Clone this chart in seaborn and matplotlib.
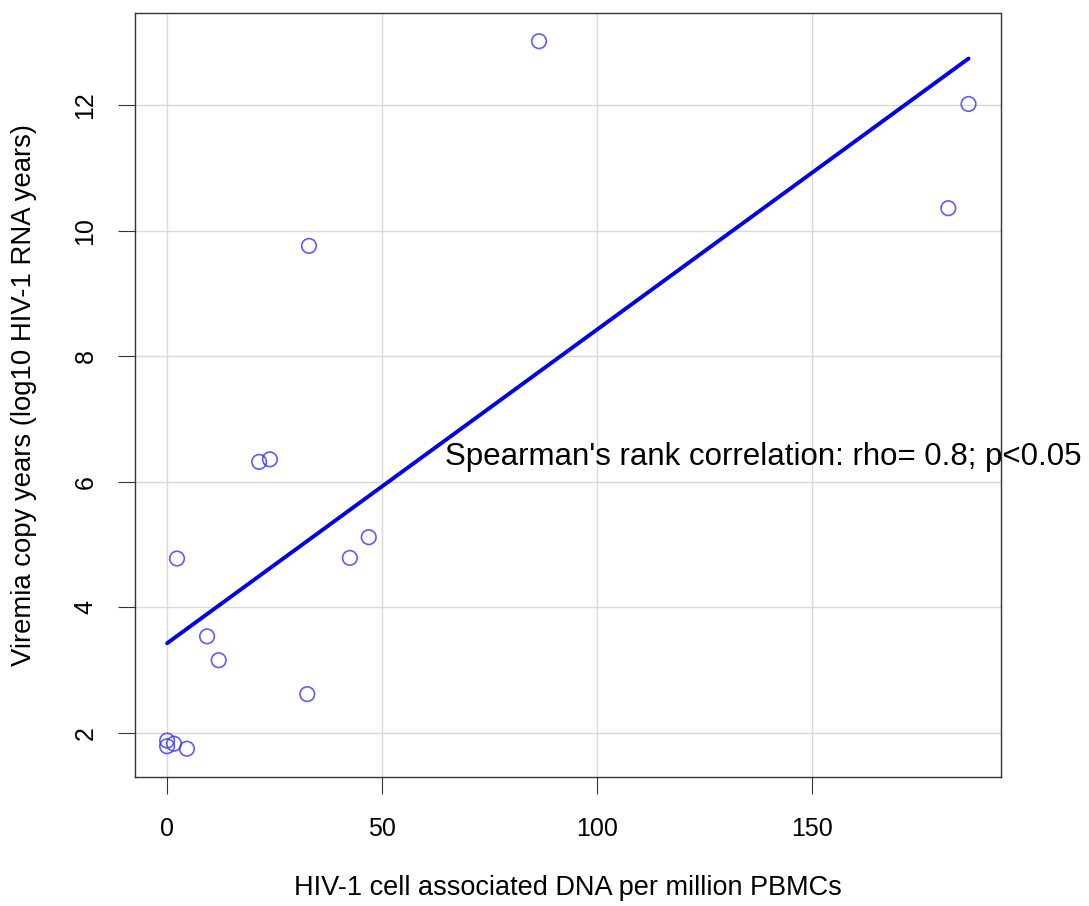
import matplotlib
matplotlib.use("Agg")
import matplotlib.pyplot as plt
import seaborn as sns
import numpy as np
import pandas as pd

dna = [0.0, 0.0, 1.6, 4.6, 2.3, 9.3, 12.0, 21.4, 23.9, 32.6, 33.0, 42.5, 46.9, 86.5, 186.4, 181.7]
viremia = [1.88, 1.79, 1.83, 1.75, 4.78, 3.54, 3.16, 6.32, 6.36, 2.62, 9.76, 4.79, 5.12, 13.02, 12.02, 10.36]
x_ticks = [0, 50, 100, 150]
y_ticks = [2, 4, 6, 8, 10, 12]
annotation = "Spearman's rank correlation: rho= 0.8; p<0.05"

df = pd.DataFrame({"dna": dna, "viremia": viremia})

sns.set_style("white")
plt.rcParams["font.family"] = ["Liberation Sans", "DejaVu Sans"]
plt.rcParams["text.color"] = "black"
plt.rcParams["axes.labelcolor"] = "black"
plt.rcParams["xtick.labelcolor"] = "black"
plt.rcParams["ytick.labelcolor"] = "black"

fig = plt.figure(figsize=(10.89, 9.06), dpi=100)
ax = fig.add_axes([0.124, 0.1424, 0.795, 0.8433])

ax.set_xticks(x_ticks)
ax.set_yticks(y_ticks)
ax.grid(True, color="#d9d9d9", linewidth=1)
ax.set_axisbelow(True)

sns.regplot(data=df, x="dna", y="viremia", ax=ax, ci=None, truncate=True,
            scatter_kws=dict(s=110, facecolors="none", edgecolors="#3333ff", linewidths=1.2),
            line_kws=dict(color="#0000ee", linewidth=2.8))

ax.set_xlim(-7.46, 193.9)
ax.set_ylim(1.30, 13.47)

ax.tick_params(axis="both", direction="out", length=12, width=0.8, color="#333333",
               labelsize=18, labelcolor="black", bottom=True, left=True)
ax.tick_params(axis="x", pad=17)
ax.tick_params(axis="y", pad=15)
for lab in ax.get_yticklabels():
    lab.set_rotation(90)
    lab.set_va("center")
ax.set_xlabel("HIV-1 cell associated DNA per million PBMCs", fontsize=19.5, color="black")
ax.set_ylabel("Viremia copy years (log10 HIV-1 RNA years)", fontsize=19.8, color="black")
ax.xaxis.label.set_va("center")
ax.yaxis.label.set_va("center")
ax.xaxis.set_label_coords(0.5, -0.145)
ax.yaxis.set_label_coords(-0.128, 0.5)

for s in ax.spines.values():
    s.set_visible(True)
    s.set_color("#333333")
    s.set_linewidth(1.0)

ax.text(64.7, 6.39, annotation, fontsize=22.5, ha="left", va="center",
        color="black", clip_on=False)

fig.savefig("out.png", dpi=100)
